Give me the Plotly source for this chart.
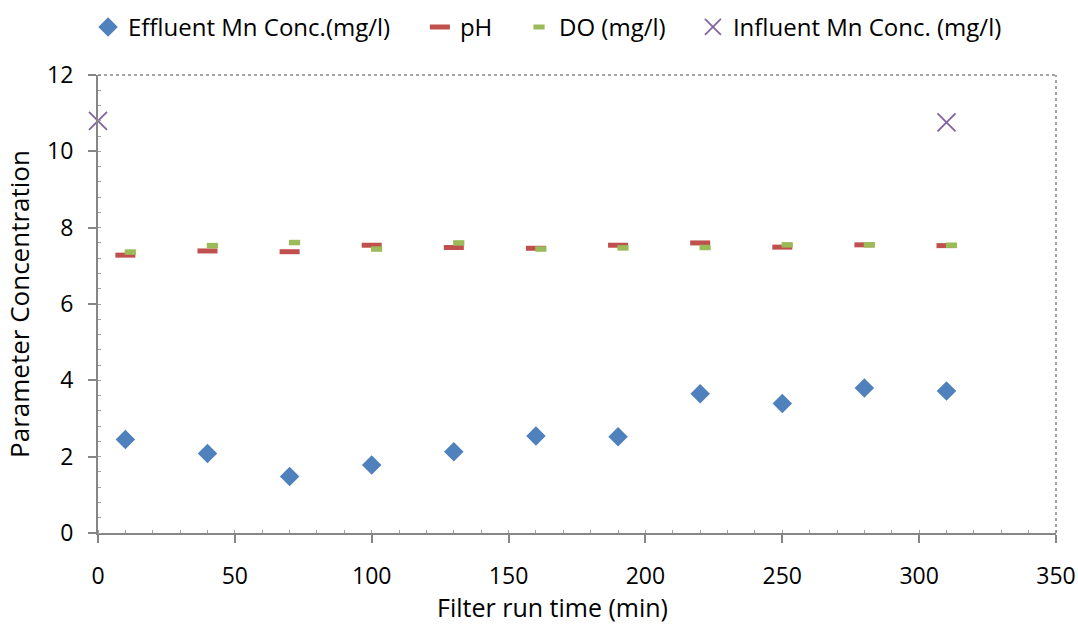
import plotly.graph_objects as go

# Filter run samples (min)
run_time = [10, 40, 70, 100, 130, 160, 190, 220, 250, 280, 310]
effluent_mn = [2.45, 2.08, 1.48, 1.78, 2.13, 2.54, 2.52, 3.65, 3.39, 3.80, 3.72]
ph = [7.28, 7.39, 7.37, 7.54, 7.48, 7.46, 7.54, 7.60, 7.49, 7.55, 7.53]
do_mg = [7.36, 7.53, 7.61, 7.44, 7.60, 7.44, 7.47, 7.48, 7.55, 7.55, 7.54]

influent_time = [0, 310]
influent_mn = [10.80, 10.76]

x_ticks = [0, 50, 100, 150, 200, 250, 300, 350]
y_ticks = [0, 2, 4, 6, 8, 10, 12]

FONT = "Open Sans"
AXIS_GREY = "#868686"
X_RANGE = [0, 350]
# short-dash DO marker is drawn just right of its sample time
DO_SHIFT = 1.8

fig = go.Figure()

fig.add_trace(go.Scatter(
    x=run_time, y=effluent_mn, mode="markers", name="Effluent Mn Conc.(mg/l)",
    marker=dict(symbol="diamond", size=15, color="#4F81BD", line=dict(width=0)),
    legend="legend", cliponaxis=False,
))
fig.add_trace(go.Scatter(
    x=run_time, y=ph, mode="markers", name="pH",
    marker=dict(symbol="line-ew", size=14.3, color="#C0504D",
                line=dict(color="#C0504D", width=5)),
    legend="legend2", cliponaxis=False,
))
fig.add_trace(go.Scatter(
    x=run_time, y=do_mg, mode="markers", name="DO (mg/l)", xaxis="x2",
    marker=dict(symbol="line-ew", size=8, color="#9BBB59",
                line=dict(color="#9BBB59", width=5.5)),
    legend="legend3", cliponaxis=False,
))
fig.add_trace(go.Scatter(
    x=influent_time, y=influent_mn, mode="markers", name="Influent Mn Conc. (mg/l)",
    marker=dict(symbol="x-thin", size=18, color="#8064A2",
                line=dict(color="#8064A2", width=1.8)),
    legend="legend4", cliponaxis=False,
))

axis_common = dict(
    showline=True, linecolor=AXIS_GREY, linewidth=2,
    ticks="outside", ticklen=8, tickwidth=2, tickcolor=AXIS_GREY,
    showgrid=False, zeroline=False, automargin=False,
    tickfont=dict(family=FONT, size=23, color="#000000"),
)
title_font = dict(family=FONT, size=26, color="#000000")

legend_common = dict(
    orientation="h", yanchor="middle", y=1.104, xanchor="left",
    font=dict(family=FONT, size=24, color="#000000"),
    bgcolor="rgba(0,0,0,0)", borderwidth=0, itemclick=False,
)

fig.update_layout(
    width=1078, height=624,
    margin=dict(l=98, r=22, t=75, b=91, autoexpand=False),
    paper_bgcolor="white", plot_bgcolor="white",
    xaxis=dict(
        range=X_RANGE, tickvals=x_ticks, ticklabelstandoff=13,
        minor=dict(ticks="inside", ticklen=3, tickwidth=1, tickcolor="#A0A0A0", dtick=10),
        **axis_common,
    ),
    xaxis2=dict(
        range=[X_RANGE[0] - DO_SHIFT, X_RANGE[1] - DO_SHIFT],
        overlaying="x", visible=False,
    ),
    yaxis=dict(
        range=[0, 12], tickvals=y_ticks, ticklabelstandoff=10,
        title=dict(text="Parameter Concentration", standoff=10, font=title_font),
        minor=dict(ticks="inside", ticklen=3, tickwidth=1, tickcolor="#A0A0A0", dtick=0.4),
        **axis_common,
    ),
    # x-axis title placed low, close to the page edge
    annotations=[
        dict(text="Filter run time (min)", xref="paper", yref="paper",
             x=0.474, y=-0.162, xanchor="center", yanchor="middle",
             showarrow=False, font=dict(family=FONT, size=25, color="#000000")),
    ],
    showlegend=True,
    legend=dict(x=-0.0104, **legend_common),
    legend2=dict(x=0.336, **legend_common),
    legend3=dict(x=0.4395, **legend_common),
    legend4=dict(x=0.621, **legend_common),
    shapes=[
        dict(type="line", xref="paper", yref="paper", x0=0, x1=1, y0=1, y1=1,
             line=dict(color=AXIS_GREY, width=1.5, dash="dot")),
        dict(type="line", xref="paper", yref="paper", x0=1, x1=1, y0=0, y1=1,
             line=dict(color=AXIS_GREY, width=1.5, dash="dot")),
    ],
)

fig.write_html("out.html")
